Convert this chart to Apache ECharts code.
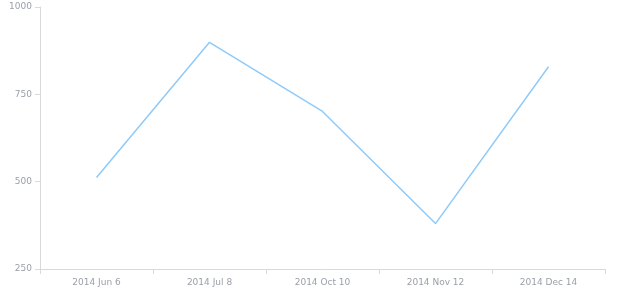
<!DOCTYPE html>
<html><head><meta charset="utf-8">
<script src="https://cdn.jsdelivr.net/npm/echarts@6/dist/echarts.min.js"></script>
<style>html,body{margin:0;padding:0;background:#fff}#c{width:620px;height:300px}</style>
</head><body><div id="c"></div>
<script>
const categories = ["2014 Jun 6", "2014 Jul 8", "2014 Oct 10", "2014 Nov 12", "2014 Dec 14"];
const values = [512, 899, 701, 380, 829];
const yTicks = [250, 500, 750, 1000];

const chart = echarts.init(document.getElementById('c'));
chart.setOption({
  animation: false,
  grid: {left: 40, right: 15, top: 7, bottom: 31},
  xAxis: {
    type: 'category', data: categories, boundaryGap: true,
    axisLine: {lineStyle: {color: '#d9d9d9', width: 1}},
    axisTick: {show: true, length: 5, lineStyle: {color: '#d9d9d9'}},
    axisLabel: {color: '#9a9fa8', fontSize: 9, margin: 9, fontFamily: 'DejaVu Sans'},
    splitLine: {show: false}
  },
  yAxis: {
    type: 'value', min: yTicks[0], max: yTicks[yTicks.length-1], interval: 250,
    axisLine: {show: true, lineStyle: {color: '#d9d9d9', width: 1}},
    axisTick: {show: true, length: 5, lineStyle: {color: '#d9d9d9'}},
    axisLabel: {color: '#9a9fa8', fontSize: 9, margin: 8, fontFamily: 'DejaVu Sans', formatter: v => String(v)},
    splitLine: {show: false}
  },
  series: [{
    type: 'line', data: values, showSymbol: false, symbol: 'none',
    lineStyle: {color: '#90caf9', width: 1.5}
  }]
});
</script></body></html>
